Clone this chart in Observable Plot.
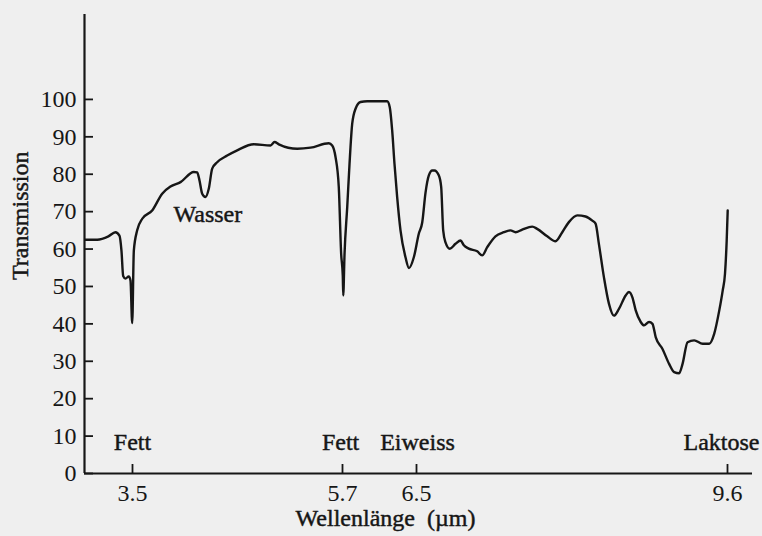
<!DOCTYPE html>
<html><head><meta charset="utf-8">
<script src="https://cdn.jsdelivr.net/npm/d3@7"></script>
<script src="https://cdn.jsdelivr.net/npm/@observablehq/plot@0.6"></script>
<style>
html,body{margin:0;padding:0;background:#efefef;}
</style></head><body><div id="chart"></div>
<script>
// Spectrum: wavelength (µm) and transmission (%)
const wavelength = [3.008,3.133,3.249,3.322,3.364,3.385,3.403,3.427,3.461,3.479,3.497,3.514,3.549,3.602,3.706,3.811,3.898,4.003,4.142,4.178,4.202,4.230,4.265,4.299,4.335,4.387,4.492,4.597,4.771,4.946,4.988,5.033,5.226,5.365,5.557,5.592,5.627,5.661,5.686,5.703,5.708,5.722,5.751,5.776,5.805,5.841,5.895,5.967,6.183,6.211,6.237,6.262,6.291,6.327,6.381,6.419,6.471,6.523,6.557,6.590,6.623,6.657,6.679,6.722,6.746,6.766,6.789,6.832,6.889,6.939,6.972,7.021,7.105,7.155,7.205,7.287,7.370,7.437,7.487,7.554,7.654,7.703,7.803,7.886,7.953,8.019,8.103,8.185,8.252,8.285,8.318,8.368,8.418,8.468,8.518,8.585,8.618,8.652,8.685,8.735,8.768,8.818,8.852,8.885,8.952,9.018,9.068,9.118,9.152,9.202,9.268,9.352,9.418,9.468,9.518,9.552,9.575,9.592,9.602];
const transmission = [62.5,62.5,63.4,64.5,63.6,59.6,52.8,52.1,52.7,51.6,40.2,59.6,65.0,68.1,70.3,74.8,76.7,77.9,80.6,80.5,78.3,74.8,73.9,76.1,81.5,83.2,85.0,86.4,88.0,87.7,88.6,88.0,86.8,87.1,88.3,87.7,84.6,76.6,58.7,52.9,47.6,58.7,71.2,82.8,93.5,97.5,99.3,99.5,99.5,97.9,91.7,82.8,73.9,65.0,57.8,54.9,57.8,64.1,67.1,75.1,79.7,81.0,81.0,79.7,76.6,65.0,61.8,60.1,61.4,62.3,61.0,60.1,59.4,58.3,60.5,63.4,64.5,65.0,64.5,65.2,66.0,65.4,63.4,62.1,64.5,67.2,69.0,68.7,67.6,66.8,61.4,52.5,45.4,42.2,44.0,47.6,48.5,47.1,43.6,40.5,39.6,40.5,40.0,36.4,33.3,29.3,27.1,26.8,29.3,35.1,35.6,34.7,34.7,37.4,43.6,48.9,53.4,62.3,70.3];

const xTicks = [3.5, 5.7, 6.5, 9.6];
const yTicks = [0, 10, 20, 30, 40, 50, 60, 70, 80, 90, 100];

const bandNames = ["Fett", "Wasser", "Fett", "Eiweiss", "Laktose"];
const bandX = [3.5, 4.29, 5.68, 6.51, 9.54];
const bandY = [8.4, 69.3, 8.4, 8.4, 8.4];

const xTitle = "Wellenlänge\u00a0\u00a0(µm)";
const yTitle = "Transmission";

const n = Math.min(wavelength.length, transmission.length);
const spectrum = d3.range(n).map(i => ({w: wavelength[i], t: transmission[i]}));
const bands = bandNames.map((name, i) => ({name, x: bandX[i], y: bandY[i]}));

const ink = "#161616";
const fs = 24;
const textStyle = {fill: ink, stroke: ink, strokeWidth: 0.45, fontSize: fs};
const chart = Plot.plot({
  width: 762,
  height: 536,
  marginLeft: 84,
  marginRight: 10,
  marginTop: 14,
  marginBottom: 63,
  style: {background: "#efefef", fontFamily: "'Liberation Serif', serif", fontSize: fs + "px", color: ink},
  x: {type: "linear", domain: [3.0, 3.5, 5.7, 6.5, 9.6, 9.85], range: [84, 132, 342, 416, 727, 752]},
  y: {domain: [0, 122.7]},
  marks: [
    Plot.ruleY([0], {stroke: ink, strokeWidth: 2.2}),
    Plot.ruleX([3.0], {stroke: ink, strokeWidth: 2.2}),
    Plot.axisY(yTicks, {tickSize: -9, tickPadding: 17, strokeWidth: 1.8, stroke: ink, fill: ink, label: null, tickFormat: d => String(d), fontSize: fs}),
    Plot.axisX(xTicks, {tickSize: -9, tickPadding: 19, strokeWidth: 1.8, stroke: ink, fill: ink, label: null, tickFormat: d3.format(".1f"), fontSize: fs}),
    Plot.line(spectrum, {x: "w", y: "t", curve: "monotone-x", stroke: ink, strokeWidth: 2.4}),
    Plot.text(bands, {x: "x", y: "y", text: "name", lineAnchor: "middle", ...textStyle}),
    Plot.text([xTitle], {frameAnchor: "bottom", dx: -33, dy: 52, ...textStyle}),
    Plot.text([yTitle], {frameAnchor: "left", dx: -64, dy: 36, rotate: -90, ...textStyle})
  ]
});
document.getElementById("chart").appendChild(chart);
</script>
</body></html>
